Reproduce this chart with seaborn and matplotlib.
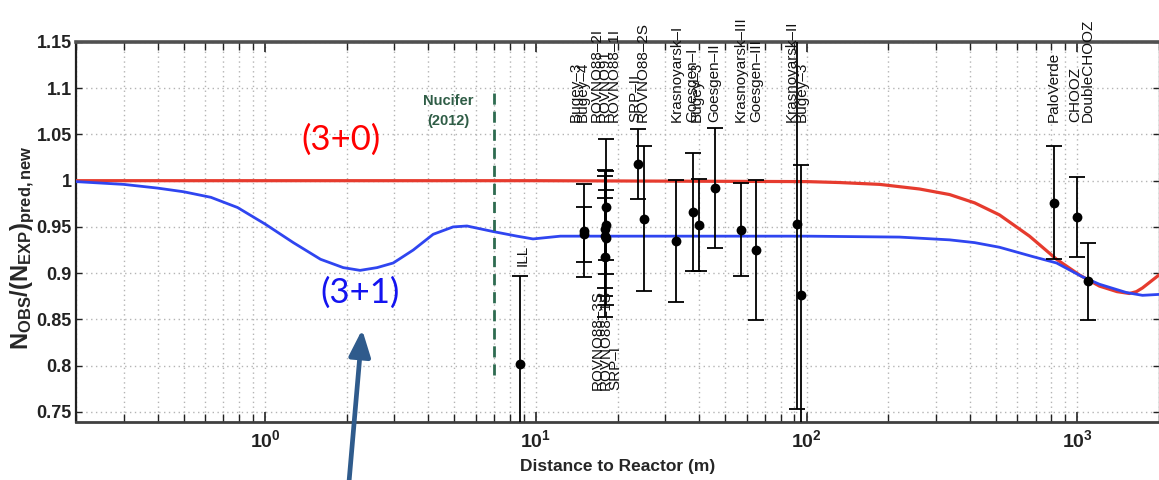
import matplotlib
matplotlib.use('Agg')
import matplotlib.pyplot as plt
import matplotlib.ticker as mticker
import seaborn as sns

# 3+0 curve (no sterile neutrino)
no_osc_dist = [0.2, 1, 10, 100, 132, 186, 261, 337, 417, 515, 665, 837, 1017, 1205, 1400, 1556, 1650, 1738, 2000]
no_osc_ratio = [1.0, 1.0, 1.0, 0.999, 0.998, 0.996, 0.991, 0.985, 0.976, 0.963, 0.940, 0.915, 0.898, 0.886,
                0.880, 0.878, 0.880, 0.884, 0.898]

# 3+1 curve (with sterile neutrino)
sterile_dist = [0.2, 0.3, 0.4, 0.5, 0.63, 0.79, 1.0, 1.27, 1.6, 1.94, 2.24, 2.59, 2.97, 3.52, 4.17, 4.94, 5.56,
                6.94, 8.51, 9.75, 12.3, 15, 50, 100, 220, 337, 417, 515, 682, 837, 1043, 1205, 1517, 1738, 2000]
sterile_ratio = [0.999, 0.996, 0.992, 0.988, 0.982, 0.971, 0.953, 0.933, 0.915, 0.906, 0.903, 0.906, 0.911, 0.925,
                 0.942, 0.950, 0.951, 0.945, 0.940, 0.937, 0.940, 0.940, 0.940, 0.940, 0.939, 0.936, 0.933, 0.928,
                 0.918, 0.911, 0.896, 0.888, 0.879, 0.876, 0.877]

# reactor experiments
exp_names = ['ILL', 'Bugey–4', 'Bugey–3', 'ROVNO91', 'ROVNO88–1I', 'ROVNO88–2I', 'ROVNO88–1S', 'ROVNO88–3S',
             'SRP–I', 'SRP–II', 'ROVNO88–2S', 'Krasnoyarsk–I', 'Goesgen–I', 'Bugey–3', 'Goesgen–II',
             'Krasnoyarsk–III', 'Goesgen–III', 'Krasnoyarsk–II', 'Bugey–3', 'PaloVerde', 'CHOOZ', 'DoubleCHOOZ']
exp_dist = [8.76, 15.0, 15.0, 18.0, 18.0, 17.96, 18.15, 18.18, 18.2, 23.8, 25.1, 33.0, 38.0, 40.0, 46.0,
            57.0, 65.0, 92.3, 95.0, 820, 1000, 1090]
exp_ratio = [0.802, 0.942, 0.946, 0.940, 0.917, 0.948, 0.972, 0.938, 0.952, 1.018, 0.959, 0.935, 0.966, 0.952,
             0.992, 0.947, 0.925, 0.953, 0.876, 0.976, 0.961, 0.891]
exp_err = [0.095, 0.030, 0.050, 0.065, 0.064, 0.064, 0.073, 0.072, 0.038, 0.038, 0.078, 0.066, 0.064, 0.050,
           0.065, 0.050, 0.076, 0.200, 0.141, 0.061, 0.043, 0.042]

nucifer_dist = 7.0

ytick_values = [0.75, 0.8, 0.85, 0.9, 0.95, 1.0, 1.05, 1.1, 1.15]
xtick_values = [1, 10, 100, 1000]
xtick_labels = [r'$\mathbf{10^{0}}$', r'$\mathbf{10^{1}}$', r'$\mathbf{10^{2}}$', r'$\mathbf{10^{3}}$']

sns.set_style('ticks')
plt.rcParams['font.family'] = ['Liberation Sans', 'DejaVu Sans']
plt.rcParams['mathtext.fontset'] = 'custom'
plt.rcParams['mathtext.rm'] = 'Liberation Sans'
plt.rcParams['mathtext.it'] = 'Liberation Sans:italic'
plt.rcParams['mathtext.bf'] = 'Liberation Sans:bold'

fig = plt.figure(figsize=(11.59, 4.8), dpi=100)
ax = fig.add_axes([76 / 1159, 58 / 480, 1083 / 1159, 380 / 480])
ax.set_xscale('log')
ax.set_xlim(0.2, 2000)
ax.set_ylim(0.739, 1.15)

# grid
ax.set_axisbelow(True)
ax.grid(True, which='both', axis='x', color='#b4b4b4', linestyle=(0, (1, 2.5)), linewidth=1.0)
ax.grid(True, which='major', axis='y', color='#b4b4b4', linestyle=(0, (1, 2.5)), linewidth=1.0)

# curves
sns.lineplot(x=no_osc_dist, y=no_osc_ratio, ax=ax, color='#e63b2e', linewidth=2.3,
             sort=False, estimator=None, zorder=3)
sns.lineplot(x=sterile_dist, y=sterile_ratio, ax=ax, color='#2f45f0', linewidth=2.0,
             sort=False, estimator=None, zorder=3)

# experiments
ax.errorbar(exp_dist, exp_ratio, yerr=exp_err, fmt='none', ecolor='black', elinewidth=1.3,
            capsize=6, capthick=1.3, zorder=4)
sns.scatterplot(x=exp_dist, y=exp_ratio, ax=ax, color='black', s=50, edgecolor='black',
                linewidth=0, zorder=5)

# label placement: (anchor, x offset in pixels)
label_y = {'top': 1.064, 'bottom': 0.774, 'mid': 0.908}
label_layout = [('mid', 2), ('top', -1), ('top', -8), ('top', 0), ('top', 9), ('top', -8), ('bottom', 0),
                ('bottom', -9), ('bottom', 9), ('top', -3), ('top', -1), ('top', 0), ('top', -1), ('top', -2),
                ('top', -1), ('top', 0), ('top', 0), ('top', -6), ('top', 1), ('top', 0), ('top', -2), ('top', 0)]
for name, d, (side, dx) in zip(exp_names, exp_dist, label_layout):
    ax.annotate(name, (d, label_y[side]), xytext=(dx, 0), textcoords='offset pixels',
                rotation=90, ha='center', va='bottom', fontsize=11, color='#111111',
                annotation_clip=False, zorder=6)

# Nucifer
ax.plot([nucifer_dist, nucifer_dist], [0.79, 1.096], color='#2e6b50', linewidth=2,
        linestyle=(0, (4, 2.5)), zorder=3)
ax.text(4.74, 1.094, 'Nucifer\n(2012)', ha='center', va='top', fontsize=10.5, fontweight='bold',
        color='#2f5d46', linespacing=1.6)

ax.text(1.91, 1.044, '(3+0)', ha='center', va='center', fontsize=25, color='#ff0000', family='Lato')
ax.text(2.24, 0.879, '(3+1)', ha='center', va='center', fontsize=25, color='#1414f0', family='Lato')

ax.annotate('', xy=(2.28, 0.839), xycoords='data', xytext=(349, -2), textcoords='figure pixels',
            arrowprops=dict(arrowstyle='-|>,head_length=1.6,head_width=0.65', color='#2f5b8c',
                            lw=3.4, shrinkA=0, shrinkB=0, mutation_scale=10),
            annotation_clip=False, zorder=7)

# axes styling
ax.xaxis.set_major_locator(mticker.FixedLocator(xtick_values))
ax.set_xticklabels(xtick_labels)
ax.xaxis.set_minor_locator(mticker.LogLocator(base=10, subs=range(2, 10)))
ax.xaxis.set_minor_formatter(mticker.NullFormatter())
ax.set_yticks(ytick_values)
ax.set_yticklabels(['%g' % v for v in ytick_values])
ax.tick_params(axis='both', which='both', direction='in', top=True, right=True, colors='#222222')
ax.tick_params(axis='x', which='major', length=7, width=1.2, labelsize=14, pad=5)
ax.tick_params(axis='x', which='minor', length=6, width=1.0)
ax.tick_params(axis='y', which='major', length=4, width=1.0, labelsize=13, pad=3)
for lab in ax.get_yticklabels():
    lab.set_fontweight('bold')

ax.spines['top'].set_linewidth(2.6)
ax.spines['top'].set_color('#505050')
ax.spines['bottom'].set_linewidth(2.0)
ax.spines['bottom'].set_color('#404040')
ax.spines['left'].set_linewidth(1.6)
ax.spines['left'].set_color('#202020')
ax.spines['right'].set_linewidth(1.0)
ax.spines['right'].set_color('#808080')

ax.set_xlabel('Distance to Reactor (m)', fontsize=12.5, fontweight='bold')
ax.xaxis.set_label_coords(0.5, -0.098)
ax.set_ylabel(r'$\mathbf{N_{OBS}/(N_{EXP})_{pred,new}}$', fontsize=17)
ax.yaxis.set_label_coords(-0.036, 0.46)

fig.savefig('out.png', dpi=100)
